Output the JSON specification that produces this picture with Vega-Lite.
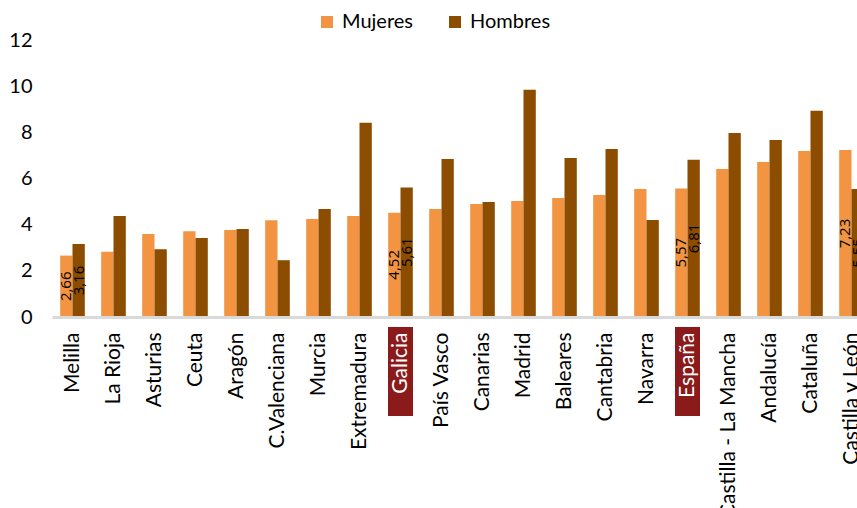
{
  "$schema": "https://vega.github.io/schema/vega-lite/v6.json",
  "width": 820,
  "height": 277,
  "autosize": {"type": "none"},
  "padding": {"left": 52, "top": 40, "right": 0, "bottom": 200},
  "background": "white",
  "config": {
    "locale": {"number": {"decimal": ",", "thousands": ".", "grouping": [3], "currency": ["", " €"]}},
    "view": {"stroke": null},
    "font": "Lato"
  },
  "data": {
    "values": [
      {"region": "Melilla", "sexo": "Mujeres", "valor": 2.66},
      {"region": "Melilla", "sexo": "Hombres", "valor": 3.16},
      {"region": "La Rioja", "sexo": "Mujeres", "valor": 2.83},
      {"region": "La Rioja", "sexo": "Hombres", "valor": 4.38},
      {"region": "Asturias", "sexo": "Mujeres", "valor": 3.6},
      {"region": "Asturias", "sexo": "Hombres", "valor": 2.93},
      {"region": "Ceuta", "sexo": "Mujeres", "valor": 3.71},
      {"region": "Ceuta", "sexo": "Hombres", "valor": 3.42},
      {"region": "Aragón", "sexo": "Mujeres", "valor": 3.77},
      {"region": "Aragón", "sexo": "Hombres", "valor": 3.81},
      {"region": "C.Valenciana", "sexo": "Mujeres", "valor": 4.19},
      {"region": "C.Valenciana", "sexo": "Hombres", "valor": 2.46},
      {"region": "Murcia", "sexo": "Mujeres", "valor": 4.25},
      {"region": "Murcia", "sexo": "Hombres", "valor": 4.68},
      {"region": "Extremadura", "sexo": "Mujeres", "valor": 4.38},
      {"region": "Extremadura", "sexo": "Hombres", "valor": 8.41},
      {"region": "Galicia", "sexo": "Mujeres", "valor": 4.52},
      {"region": "Galicia", "sexo": "Hombres", "valor": 5.61},
      {"region": "País Vasco", "sexo": "Mujeres", "valor": 4.68},
      {"region": "País Vasco", "sexo": "Hombres", "valor": 6.85},
      {"region": "Canarias", "sexo": "Mujeres", "valor": 4.9},
      {"region": "Canarias", "sexo": "Hombres", "valor": 4.98},
      {"region": "Madrid", "sexo": "Mujeres", "valor": 5.03},
      {"region": "Madrid", "sexo": "Hombres", "valor": 9.84},
      {"region": "Baleares", "sexo": "Mujeres", "valor": 5.16},
      {"region": "Baleares", "sexo": "Hombres", "valor": 6.89},
      {"region": "Cantabria", "sexo": "Mujeres", "valor": 5.29},
      {"region": "Cantabria", "sexo": "Hombres", "valor": 7.28},
      {"region": "Navarra", "sexo": "Mujeres", "valor": 5.55},
      {"region": "Navarra", "sexo": "Hombres", "valor": 4.2},
      {"region": "España", "sexo": "Mujeres", "valor": 5.57},
      {"region": "España", "sexo": "Hombres", "valor": 6.81},
      {"region": "Castilla - La Mancha", "sexo": "Mujeres", "valor": 6.41},
      {"region": "Castilla - La Mancha", "sexo": "Hombres", "valor": 7.97},
      {"region": "Andalucía", "sexo": "Mujeres", "valor": 6.72},
      {"region": "Andalucía", "sexo": "Hombres", "valor": 7.67},
      {"region": "Cataluña", "sexo": "Mujeres", "valor": 7.19},
      {"region": "Cataluña", "sexo": "Hombres", "valor": 8.93},
      {"region": "Castilla y León", "sexo": "Mujeres", "valor": 7.23},
      {"region": "Castilla y León", "sexo": "Hombres", "valor": 5.55}
    ]
  },
  "encoding": {
    "x": {
      "field": "region",
      "type": "nominal",
      "sort": ["Melilla", "La Rioja", "Asturias", "Ceuta", "Aragón", "C.Valenciana", "Murcia", "Extremadura", "Galicia", "País Vasco", "Canarias", "Madrid", "Baleares", "Cantabria", "Navarra", "España", "Castilla - La Mancha", "Andalucía", "Cataluña", "Castilla y León"],
      "scale": {"paddingInner": 0.4, "paddingOuter": 0.2},
      "axis": {
        "title": null,
        "labelAngle": 270,
        "labelAlign": "right",
        "labelBaseline": "middle",
        "labelFontSize": 21,
        "labelFont": "Lato",
        "labelPadding": 15,
        "labelLimit": 400,
        "labelOverlap": false,
        "labelColor": {"condition": {"test": "datum.value === 'Galicia' || datum.value === 'España'", "value": "white"}, "value": "black"},
        "ticks": false,
        "domainColor": "#D9D9D9",
        "domainWidth": 3,
        "zindex": 1
      }
    }
  },
  "layer": [
    {
      "transform": [
        {"filter": {"field": "region", "oneOf": ["Galicia", "España"]}},
        {"filter": {"field": "sexo", "equal": "Mujeres"}}
      ],
      "mark": {"type": "bar", "color": "#8B1A1A", "width": 25},
      "encoding": {
        "y": {"datum": -0.43, "type": "quantitative"},
        "y2": {"datum": -4.29}
      }
    },
    {
      "mark": {"type": "bar"},
      "encoding": {
        "xOffset": {"field": "sexo", "type": "nominal", "scale": {"domain": ["Mujeres", "Hombres"], "paddingInner": 0, "paddingOuter": 0}},
        "y": {
          "field": "valor",
          "type": "quantitative",
          "scale": {"domain": [0, 12], "nice": false},
          "axis": {
            "title": null,
            "values": [0, 2, 4, 6, 8, 10, 12],
            "ticks": false,
            "domain": false,
            "gridColor": "#DEDEDE",
            "gridWidth": 2,
            "labelFontSize": 20,
            "labelFont": "Lato",
            "labelColor": "black",
            "labelPadding": 20
          }
        },
        "color": {
          "field": "sexo",
          "type": "nominal",
          "scale": {"domain": ["Mujeres", "Hombres"], "range": ["#F29442", "#8C4D00"]},
          "legend": {
            "title": null,
            "orient": "none",
            "direction": "horizontal",
            "legendX": 265,
            "legendY": -28,
            "padding": 0,
            "symbolType": "square",
            "symbolSize": 144,
            "symbolStrokeWidth": 0,
            "labelFontSize": 20,
            "labelFont": "Lato",
            "labelColor": "black",
            "labelOffset": 5,
            "columnPadding": 32
          }
        }
      }
    },
    {
      "transform": [
        {"filter": {"field": "region", "oneOf": ["Melilla", "Galicia", "España", "Castilla y León"]}},
        {"calculate": "datum.valor / 2", "as": "medio"}
      ],
      "mark": {"type": "text", "angle": 270, "align": "center", "baseline": "middle", "fontSize": 15, "font": "Open Sans", "color": "black"},
      "encoding": {
        "xOffset": {"field": "sexo", "type": "nominal", "scale": {"domain": ["Mujeres", "Hombres"], "paddingInner": 0, "paddingOuter": 0}},
        "y": {"field": "medio", "type": "quantitative"},
        "text": {"field": "valor", "type": "quantitative", "format": ".2f"}
      }
    }
  ]
}
